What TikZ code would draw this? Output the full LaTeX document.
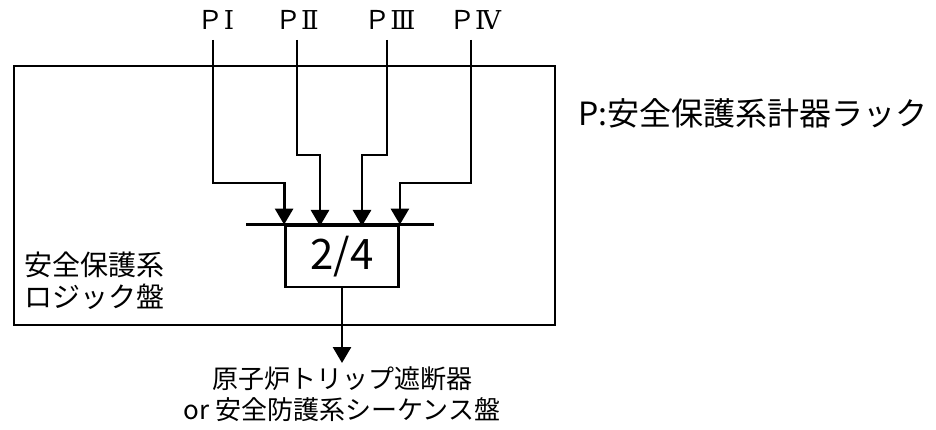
\documentclass[tikz,border=0pt]{standalone}
\usepackage{fontspec}
\setmainfont{Noto Sans CJK JP}
\newfontfamily\numeralfont{DejaVu Serif}
\usetikzlibrary{arrows.meta}
\begin{document}
\begin{tikzpicture}[x=1pt, y=-1pt, line width=2.8pt,
  sig/.style={-{Triangle[length=16pt,width=18pt]}},
  rack/.style={anchor=south, inner xsep=0pt, inner ysep=9pt, font=\fontsize{26}{30}\selectfont}]
  \useasboundingbox (0,0) rectangle (936,430);

  % Logic panel
  \draw (14,66) rectangle (555,325);
  \node[anchor=west, align=left, font=\fontsize{28}{32}\selectfont] (panel) at (20,281) {安全保護系\\ロジック盤};

  % 2-out-of-4 voting
  \node[draw, minimum width=113pt, minimum height=61pt, font=\fontsize{42}{46}\selectfont] (vote) at (342,256.5) {2/4};
  \draw ([xshift=-38pt]vote.north west) -- ([xshift=34pt]vote.north east);
  \coordinate (in1) at (vote.north west);
  \coordinate (in2) at (320,226);
  \coordinate (in3) at (362,226);
  \coordinate (in4) at (vote.north east);

  % Instrument racks
  \node[rack] (p1) at (216,40) {Ｐ{\numeralfont Ⅰ}};
  \node[rack] (p2) at (297,40) {Ｐ{\numeralfont Ⅱ}};
  \node[rack] (p3) at (390,40) {Ｐ{\numeralfont Ⅲ}};
  \node[rack] (p4) at (475,40) {Ｐ{\numeralfont Ⅳ}};
  \draw[sig] (p1.south -| 213,0) -- ++(0,143) -| (in1);
  \draw[sig] (p2.south) -- ++(0,115) -| (in2);
  \draw[sig] (p3.south -| 387,0) -- ++(0,115) -| (in3);
  \draw[sig] (p4.south -| 471,0) -- ++(0,143) -| (in4);

  % Output
  \node[anchor=north, align=center, inner sep=2pt, font=\fontsize{26}{31}\selectfont] (trip) at (342,363) {原子炉トリップ遮断器\\or 安全防護系シーケンス盤};
  \draw[sig] (vote.south) -- (vote.south |- trip.north);

  \node[anchor=west, font=\fontsize{32}{36}\selectfont] (legend) at (574,113) {P:安全保護系計器ラック};
\end{tikzpicture}
\end{document}
